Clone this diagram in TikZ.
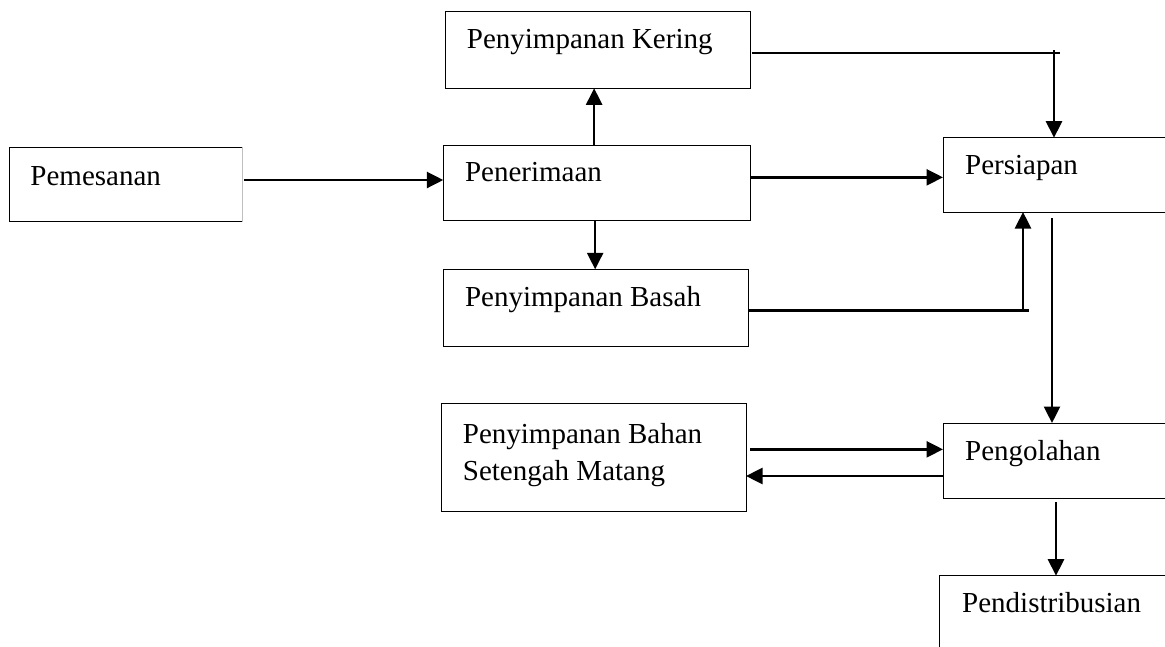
\documentclass[tikz,border=0pt]{standalone}
\usepackage{fontspec}
\setmainfont{Liberation Serif}
\usetikzlibrary{arrows.meta}

\tikzset{
  box/.style={draw=black, line width=1pt, anchor=north west, inner sep=0pt, outer sep=0pt},
  openbox/.style={anchor=north west, inner sep=0pt, outer sep=0pt},
  lbl/.style={anchor=base west, inner sep=0pt, align=left, font=\fontsize{29}{37}\selectfont},
  conn/.style={line width=2.6pt, draw=black},
  arr/.style={conn, -{Triangle[length=16.5pt,width=16pt]}},
}

\begin{document}
\begin{tikzpicture}[x=1pt, y=-1pt]
  \clip (0,0) rectangle (1165,646);
  \fill[white] (0,0) rectangle (1165,646);

  % process boxes
  \node[openbox, minimum width=233pt, minimum height=74.4pt] (pemesanan) at (9.3,147.3) {};
  \node[box, minimum width=305pt, minimum height=76.6pt] (kering) at (445.7,11.7) {};
  \node[box, minimum width=306.7pt, minimum height=74.3pt] (penerimaan) at (443.3,145.7) {};
  \node[box, minimum width=305pt, minimum height=76.7pt] (basah) at (443.3,269.3) {};
  \node[box, minimum width=260pt, minimum height=74.3pt] (persiapan) at (943,137.7) {};
  \node[box, minimum width=304.3pt, minimum height=108.7pt] (setengah) at (441.7,403) {};
  \node[box, minimum width=260pt, minimum height=75pt] (pengolahan) at (943,423) {};
  \node[box, minimum width=260pt, minimum height=100pt] (pendistribusian) at (939,575.7) {};

  % order box: black outline, faint right side
  \draw[line width=1pt] (pemesanan.north east) -- (pemesanan.north west)
    -- (pemesanan.south west) -- (pemesanan.south east);
  \draw[line width=1pt, black!25] (pemesanan.north east) -- (pemesanan.south east);

  % labels (base anchor sits on the last line of a multi-line label)
  \node[lbl] (tpemesanan) at ([xshift=21pt,yshift=-37.7pt]pemesanan.north west) {Pemesanan};
  \node[lbl] (tkering) at ([xshift=21pt,yshift=-36.3pt]kering.north west) {Penyimpanan Kering};
  \node[lbl] (tpenerimaan) at ([xshift=21.5pt,yshift=-36pt]penerimaan.north west) {Penerimaan};
  \node[lbl] (tbasah) at ([xshift=21.5pt,yshift=-37.4pt]basah.north west) {Penyimpanan Basah};
  \node[lbl] (tpersiapan) at ([xshift=22pt,yshift=-36.3pt]persiapan.north west) {Persiapan};
  \node[lbl] (tsetengah) at ([xshift=21pt,yshift=-77pt]setengah.north west) {Penyimpanan Bahan\\Setengah Matang};
  \node[lbl] (tpengolahan) at ([xshift=22pt,yshift=-37pt]pengolahan.north west) {Pengolahan};
  \node[lbl] (tpendistribusian) at ([xshift=23pt,yshift=-36.3pt]pendistribusian.north west) {Pendistribusian};

  % bend points of the elbow connectors
  \coordinate (kcorner) at (1054,53);
  \coordinate (bcorner) at (1023,310.7);

  % connectors
  \draw[arr, shorten <=1.5pt] ([yshift=4.5pt]pemesanan.east) -- ([yshift=4.5pt]pemesanan.east -| penerimaan.west);
  \draw[arr] ([xshift=-2.5pt]penerimaan.north) -- ([xshift=-2.5pt]penerimaan.north |- kering.south);
  \draw[arr] ([xshift=-1.5pt]penerimaan.south) -- ([xshift=-1.5pt]penerimaan.south |- basah.north);
  \draw[arr] ([yshift=5.5pt]penerimaan.east) -- ([yshift=5.5pt]penerimaan.east -| persiapan.west);

  \draw[conn, shorten <=1pt] (kering.east |- kcorner) -- ([xshift=6pt]kcorner);
  \draw[arr] ([yshift=3pt]kcorner) -- (kcorner |- persiapan.north);

  \draw[conn] (basah.east |- bcorner) -- ([xshift=6pt]bcorner);
  \draw[arr] ([yshift=-1pt]bcorner) -- (bcorner |- persiapan.south);

  \draw[arr, shorten <=6pt] ([xshift=109pt]persiapan.south west) -- ([xshift=109pt]persiapan.south west |- pengolahan.north);

  \draw[arr, shorten <=4pt] ([yshift=8pt]setengah.east) -- ([yshift=8pt]setengah.east -| pengolahan.west);
  \draw[arr] ([yshift=-15.5pt]pengolahan.west) -- ([yshift=-15.5pt]pengolahan.west -| setengah.east);

  \draw[arr, shorten <=4pt] ([xshift=113pt]pengolahan.south west) -- ([xshift=113pt]pengolahan.south west |- pendistribusian.north);
\end{tikzpicture}
\end{document}
